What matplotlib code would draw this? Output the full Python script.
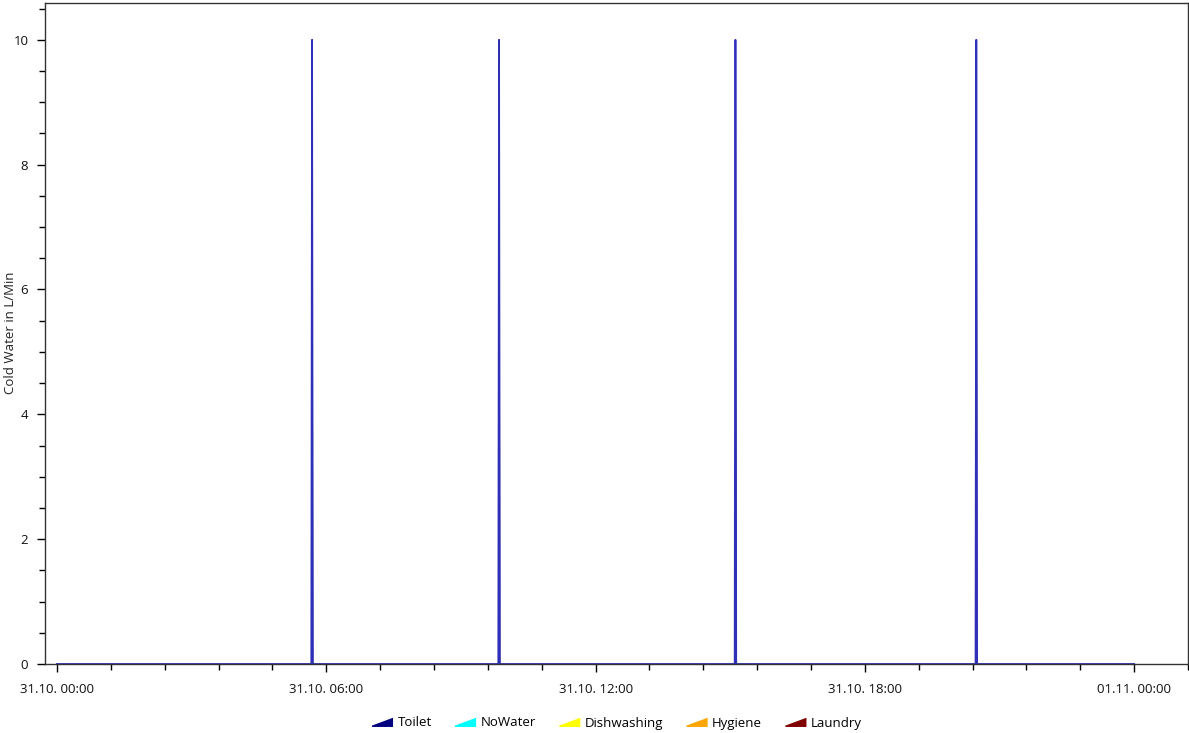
import matplotlib
matplotlib.use("Agg")
import matplotlib.pyplot as plt
import matplotlib.dates as mdates
import matplotlib.patches as mpatches
from matplotlib.legend_handler import HandlerPatch
import numpy as np
import pandas as pd

plt.rcParams['font.family'] = ['Open Sans', 'DejaVu Sans']

# ---- data ----
series_names = ["Toilet", "NoWater", "Dishwashing", "Hygiene", "Laundry"]
series_colors = ["#000080", "#00FFFF", "#FFFF00", "#FFA500", "#800000"]

# timestamps (minute resolution) of the sampled points and Toilet flow values
toilet_times = ["2023-10-31 00:00", "2023-10-31 05:40", "2023-10-31 05:41", "2023-10-31 05:42",
                "2023-10-31 09:50", "2023-10-31 09:51", "2023-10-31 09:52",
                "2023-10-31 15:06", "2023-10-31 15:07", "2023-10-31 15:08",
                "2023-10-31 20:28", "2023-10-31 20:29", "2023-10-31 20:30",
                "2023-11-01 00:00"]
toilet_values = [0, 0, 10, 0, 0, 10, 0, 0, 10, 0, 0, 10, 0, 0]
nowater_values = [0] * 14
dishwashing_values = [0] * 14
hygiene_values = [0] * 14
laundry_values = [0] * 14

x_tick_labels = ["31.10. 00:00", "31.10. 06:00", "31.10. 12:00", "31.10. 18:00", "01.11. 00:00"]

times = pd.to_datetime(toilet_times)
all_values = [toilet_values, nowater_values, dishwashing_values, hygiene_values, laundry_values]

fig = plt.figure(figsize=(11.89, 7.33), dpi=100)
W, H = 1189, 733
ax = fig.add_axes([45 / W, (H - 664) / H, (1188 - 45) / W, (664 - 3) / H])

xnum = mdates.date2num(times)
base = np.zeros(len(xnum))
for name, color, vals in zip(series_names, series_colors, all_values):
    top = base + np.array(vals, dtype=float)
    ax.fill_between(xnum, base, top, color=color, linewidth=0)
    base = top
# visible outline of the toilet spikes
ax.plot(xnum, toilet_values, color="#2f2fb8", linewidth=1.3)

start = mdates.date2num(pd.Timestamp("2023-10-31 00:00"))
hour = 1 / 24
ax.set_xlim(start - 0.267 * hour, start + 25.2 * hour)
ax.set_ylim(0, 10.59)

major = [start + 6 * i * hour for i in range(5)]
ax.set_xticks(major)
ax.set_xticklabels(x_tick_labels)
minor = [start + 1.2 * k * hour for k in range(0, 22)]
minor = [m for m in minor if all(abs(m - M) > 1e-6 for M in major)]
ax.set_xticks(minor, minor=True)

ax.set_yticks([0, 2, 4, 6, 8, 10])
ax.set_yticks(np.arange(0, 10.6, 0.5), minor=True)

ax.tick_params(axis='both', which='major', length=6, width=1, color='black',
               labelsize=9.5, labelcolor='#111111')
ax.tick_params(axis='both', which='minor', length=4, width=1, color='black')
ax.tick_params(axis='x', which='major', pad=8)
ax.tick_params(axis='y', which='major', pad=6)
for s in ax.spines.values():
    s.set_color('#333333')
    s.set_linewidth(1)

fig.text(11 / W, 1 - 333 / H, "Cold Water in L/Min", rotation=90, ha='center', va='center',
         fontsize=9.5, color='#222222')


class AreaHandler(HandlerPatch):
    def create_artists(self, legend, orig_handle, xdescent, ydescent, width, height, fontsize, trans):
        w = width
        h = height * 1.0
        x0 = -xdescent
        y0 = -ydescent - height * 0.05
        poly = mpatches.Polygon([[x0, y0], [x0 + w, y0], [x0 + w, y0 + h], [x0, y0 + h * 0.15]],
                                closed=True, facecolor=orig_handle.get_facecolor(), edgecolor='none',
                                transform=trans)
        return [poly]


handles = [mpatches.Patch(facecolor=c, label=n) for n, c in zip(series_names, series_colors)]
fig.legend(handles=handles, labels=series_names, loc='center', bbox_to_anchor=(617 / W, 1 - 723 / H),
           ncol=5, frameon=False, fontsize=9.5, handlelength=1.6, handletextpad=0.35, columnspacing=1.75,
           handler_map={mpatches.Patch: AreaHandler()})

fig.savefig("out.png", dpi=100)
